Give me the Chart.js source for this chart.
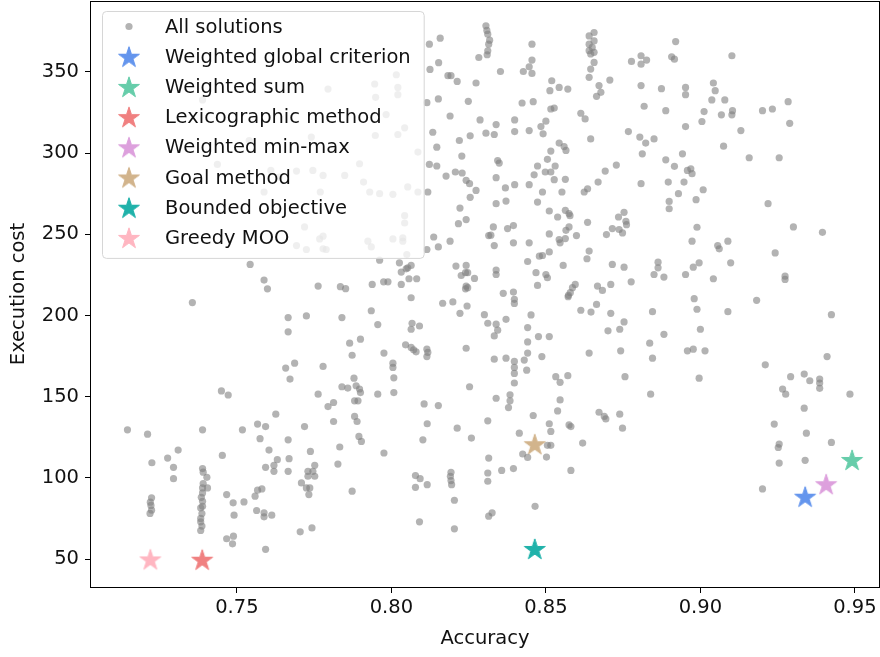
<!DOCTYPE html>
<html>
<head>
<meta charset="utf-8">
<title>Execution cost vs accuracy</title>
<script src="https://cdn.jsdelivr.net/npm/chart.js@4.4.1/dist/chart.umd.min.js"></script>
<style>
  html, body { margin: 0; padding: 0; background: #fff; }
  #wrap { width: 880px; height: 657px; position: relative; }
</style>
</head>
<body>
<div id="wrap"><canvas id="paretoChart" width="880" height="657"></canvas></div>
<script>
// every candidate solution: [accuracy, execution cost]
const solutionPoints = [
  [0.7389,332.7],[0.7540,307.7],[0.7437,293.0],[0.7610,289.3],[0.7637,285.2],[0.7588,276.0],
  [0.8016,348.2],[0.7795,339.4],[0.7946,342.5],[0.8021,340.4],[0.7949,334.3],[0.8021,335.9],[0.7983,323.7],[0.8043,315.5],
  [0.8021,311.4],[0.7948,310.8],[0.7741,309.8],[0.8086,300.6],[0.7897,293.4],[0.7746,289.3],[0.7693,288.9],[0.7779,286.2],
  [0.7849,286.2],[0.7910,282.1],[0.7930,276.0],[0.7962,275.0],[0.8005,274.6],[0.8053,279.1],[0.8086,276.0],[0.7770,276.0],
  [0.8123,367.0],[0.8158,370.7],[0.8306,378.3],[0.8312,373.2],[0.8315,367.0],[0.8312,362.9],[0.8283,358.8],[0.8153,355.6],
  [0.8125,351.5],[0.8183,347.6],[0.8193,347.6],[0.8213,344.1],[0.8274,343.1],[0.8152,333.3],[0.8115,331.0],[0.8249,331.8],
  [0.8190,322.8],[0.8287,320.4],[0.8134,312.8],[0.8220,307.7],[0.8255,310.6],[0.8306,312.2],[0.8147,303.6],[0.8228,298.1],
  [0.8123,293.0],[0.8147,292.0],[0.8177,285.8],[0.8207,288.3],[0.8229,287.7],[0.8242,283.2],[0.8253,281.1],[0.8274,277.0],
  [0.8118,276.0],[0.8309,375.5],[0.8318,369.5],[0.8310,360.5],
  [0.8455,367.0],[0.8455,357.2],[0.8446,353.1],[0.8353,350.2],[0.8427,350.2],[0.8455,349.0],[0.8640,372.1],[0.8656,374.2],
  [0.8640,367.0],[0.8656,369.0],[0.8650,365.0],[0.8640,363.0],[0.8656,362.0],[0.8645,361.0],[0.8656,355.8],[0.8645,351.7],
  [0.8640,346.6],[0.8672,341.5],[0.8707,344.9],[0.8678,337.4],[0.8664,334.9],[0.8519,344.5],[0.8513,338.4],[0.8543,340.4],
  [0.8571,339.4],[0.8423,330.8],[0.8459,331.6],[0.8516,327.1],[0.8527,327.7],[0.8613,324.5],[0.8627,321.0],[0.8339,317.5],
  [0.8333,311.4],[0.8399,320.4],[0.8399,313.2],[0.8446,313.8],[0.8484,316.3],[0.8500,319.6],[0.8491,311.8],[0.8645,308.7],
  [0.8543,306.1],[0.8559,304.0],[0.8565,301.6],[0.8516,301.2],[0.8505,296.1],[0.8344,295.4],[0.8349,293.8],[0.8530,292.0],
  [0.8473,292.0],[0.8498,288.3],[0.8516,288.3],[0.8462,286.6],[0.8339,284.8],[0.8527,283.6],[0.8563,283.8],[0.8369,278.5],
  [0.8399,280.5],[0.8446,280.5],[0.8489,276.0],[0.8552,276.0],[0.8635,278.0],[0.8624,276.0],[0.8692,288.9],[0.8728,292.6],
  [0.8669,282.1],[0.8767,313.2],[0.8804,309.8],[0.8823,306.1],[0.8850,308.7],[0.8812,299.5],[0.8808,359.9],[0.8826,357.2],
  [0.8808,354.7],[0.8777,356.4],[0.8808,341.5],[0.8818,328.8],[0.8874,339.6],[0.8888,326.1],[0.8907,359.2],[0.8916,357.8],
  [0.8920,368.6],[0.8952,340.4],[0.8952,335.9],[0.8952,316.3],[0.8942,299.5],[0.8888,295.8],[0.8916,291.8],[0.8958,289.3],
  [0.8896,282.1],[0.8947,282.1],[0.8808,281.1],[0.8929,275.0],
  [0.9102,359.9],[0.9042,343.1],[0.9048,338.4],[0.9037,332.7],[0.9079,332.7],[0.9012,325.5],[0.9068,323.5],[0.9104,326.1],
  [0.9102,323.5],[0.9005,319.4],[0.9131,313.8],[0.9075,304.2],[0.9158,297.1],[0.9255,297.1],[0.9201,326.1],[0.9233,327.1],
  [0.9284,331.6],[0.9289,318.3],[0.8969,290.3],[0.8973,287.3],[0.9009,277.4],
  [0.7543,231.4],[0.7588,221.8],[0.7599,216.4],[0.7356,207.9],[0.7666,198.7],[0.7666,189.9],[0.7658,167.6],[0.7672,160.8],
  [0.7719,254.5],[0.7779,248.8],[0.7768,247.1],[0.7693,243.0],[0.7725,240.6],[0.7779,241.0],[0.7789,240.6],[0.7924,245.7],
  [0.7935,242.2],[0.8005,247.1],[0.8037,247.7],[0.8037,245.7],[0.8043,256.9],[0.8043,261.4],[0.8050,237.5],
  [0.7962,234.0],[0.8026,232.4],[0.8048,228.7],[0.8053,229.3],[0.8064,230.8],[0.8032,226.7],[0.8057,222.6],[0.8082,222.6],
  [0.8032,219.1],[0.7975,220.7],[0.7989,220.7],[0.7938,219.1],[0.7835,217.7],[0.7852,216.5],[0.7763,218.1],[0.8064,210.9],
  [0.8115,240.6],[0.8137,248.3],[0.8152,242.2],[0.8190,245.7],[0.8222,266.1],[0.8217,256.5],[0.8242,259.0],[0.8255,272.7],
  [0.8315,249.2],[0.8209,230.4],[0.8242,230.8],[0.8240,226.3],[0.8226,224.6],[0.8247,226.3],[0.8269,222.8],[0.8242,218.1],
  [0.8247,217.1],[0.8240,216.4],[0.8166,207.5],[0.8199,208.3],[0.8245,205.8],[0.8222,201.3],[0.8301,200.5],[0.8312,195.2],
  [0.7935,202.9],[0.7956,194.4],[0.7840,198.7],[0.7725,199.7],[0.8067,195.2],[0.8064,191.5],[0.8091,193.5],[0.8046,181.9],
  [0.8064,180.3],[0.8072,178.8],[0.8080,177.6],[0.8115,179.2],[0.8118,177.2],[0.8115,174.7],[0.8242,179.8],[0.7900,185.4],
  [0.7865,182.9],[0.7873,175.5],[0.7976,176.8],[0.8005,170.6],[0.8005,168.0],[0.7779,168.6],[0.7687,170.6],[0.7879,161.4],
  [0.8008,161.6],[0.7840,156.1],[0.7859,155.3],[0.7886,156.7],[0.7897,154.7],[0.8253,156.1],
  [0.8339,268.8],[0.8371,270.4],[0.8473,269.8],[0.8511,264.3],[0.8538,260.6],[0.8563,264.7],[0.8575,262.7],[0.8578,261.4],
  [0.8635,257.3],[0.8899,270.2],[0.8899,265.7],[0.8753,263.5],[0.8735,260.6],[0.8759,258.0],[0.8761,255.9],[0.8715,253.5],
  [0.8737,252.9],[0.8748,250.8],[0.8696,249.8],[0.8599,249.2],[0.8575,254.5],[0.8565,252.4],[0.8543,246.7],[0.8546,244.7],
  [0.8563,247.3],[0.8511,250.2],[0.8330,254.5],[0.8376,253.5],[0.8395,255.3],[0.8322,249.4],[0.8333,243.0],[0.8395,244.7],
  [0.8446,244.7],[0.8511,239.1],[0.8479,236.5],[0.8489,236.9],[0.8441,233.2],[0.8640,239.6],[0.8633,234.9],[0.8556,230.8],
  [0.8715,231.4],[0.8753,229.7],[0.8339,227.9],[0.8339,225.2],[0.8468,226.3],[0.8500,225.2],[0.8505,223.2],[0.8473,218.5],
  [0.8595,219.1],[0.8586,217.1],[0.8579,214.0],[0.8573,212.4],[0.8572,211.5],[0.8667,218.1],[0.8683,215.4],[0.8710,219.1],
  [0.8776,220.7],[0.8863,232.8],[0.8863,229.3],[0.8850,225.2],[0.8882,223.6],[0.8952,225.2],[0.8362,213.6],[0.8395,214.4],
  [0.8398,209.9],[0.8398,207.4],[0.8664,206.8],[0.8613,203.2],[0.8646,202.1],[0.8710,201.3],[0.8845,202.3],[0.8452,200.3],
  [0.8371,197.6],[0.8339,194.6],[0.8344,190.9],[0.8333,187.4],[0.8441,192.5],[0.8753,196.0],[0.8739,191.5],[0.8701,190.5],
  [0.8882,188.4],[0.8441,183.7],[0.8441,176.8],[0.8476,187.0],[0.8511,187.0],[0.8836,182.9],[0.8958,178.2],[0.8640,176.8],
  [0.8742,178.2],[0.8845,173.7],[0.8487,174.7],[0.8333,173.1],[0.8371,173.7],[0.8398,171.7],[0.8398,168.0],[0.8398,164.3],
  [0.8398,158.4],[0.8430,172.5],[0.8438,166.3],[0.8532,162.3],[0.8546,158.8],[0.8571,162.9],[0.8756,162.3],
  [0.8986,271.3],[0.9219,268.8],[0.8989,254.3],[0.8973,245.7],[0.9056,243.0],[0.9061,241.0],[0.9089,245.7],[0.8996,232.4],
  [0.8977,229.7],[0.9098,232.4],[0.9042,222.6],[0.9301,254.5],[0.9395,251.2],[0.9242,238.5],[0.9274,224.2],[0.9274,222.2],
  [0.9182,209.3],[0.8980,210.3],[0.8989,203.8],[0.9089,202.3],[0.9424,200.5],[0.9000,191.5],[0.8977,179.2],[0.9015,178.2],
  [0.9410,174.7],[0.9210,169.6],[0.8996,161.4],[0.9292,162.3],[0.9336,163.9],[0.9354,159.8],[0.9386,160.8],[0.9386,158.4],
  [0.9386,155.1],[0.9266,154.7],
  [0.7450,153.5],[0.7472,151.0],[0.7146,129.6],[0.7211,126.9],[0.7389,129.6],[0.7518,129.6],[0.7626,139.2],[0.7567,133.1],
  [0.7593,131.6],[0.7575,124.1],[0.7666,123.4],[0.7604,117.1],[0.7631,111.2],[0.7669,111.8],[0.7593,106.5],[0.7620,107.7],
  [0.7620,104.0],[0.7666,104.0],[0.7310,117.1],[0.7453,113.8],[0.7276,112.2],[0.7225,109.3],[0.7295,106.5],[0.7295,99.5],
  [0.7389,105.7],[0.7403,100.3],[0.7389,93.8],[0.7405,93.8],[0.7389,90.7],[0.7389,85.6],[0.7389,82.5],[0.7383,81.5],
  [0.7383,75.0],[0.7383,72.9],[0.7387,70.3],[0.7383,67.6],[0.7224,87.7],[0.7220,85.0],[0.7224,80.1],[0.7219,78.1],
  [0.7467,89.7],[0.7488,84.6],[0.7523,85.2],[0.7491,77.0],[0.7467,62.5],[0.7489,64.1],[0.7486,59.4],[0.7567,92.4],
  [0.7581,93.2],[0.7559,88.7],[0.7564,79.9],[0.7588,78.5],[0.7588,76.0],[0.7613,77.0],[0.7593,56.0],
  [0.7391,96.5],[0.7385,88.0],[0.7387,78.0],[0.7391,103.5],[0.7222,83.0],
  [0.7763,151.5],[0.7900,152.5],[0.7956,151.5],[0.8008,152.5],[0.7795,143.9],[0.7813,146.4],[0.7881,147.4],[0.7892,147.4],
  [0.7881,137.8],[0.7889,134.7],[0.7813,134.7],[0.7719,131.6],[0.7895,125.5],[0.7903,122.4],[0.7738,116.3],[0.7833,119.0],
  [0.7976,115.3],[0.7827,108.5],[0.7752,107.7],[0.7730,104.0],[0.7746,104.0],[0.7752,101.0],[0.7730,101.0],[0.7709,96.9],
  [0.7725,93.8],[0.7736,93.8],[0.7733,89.7],[0.7873,91.8],[0.7705,66.8],[0.7743,69.2],[0.8106,145.5],[0.8152,144.5],
  [0.8116,133.3],[0.8102,123.4],[0.8213,130.6],[0.8259,124.5],[0.8312,135.1],[0.8078,101.4],[0.8093,99.5],[0.8116,95.8],
  [0.8078,94.2],[0.8193,103.4],[0.8191,101.0],[0.8193,98.3],[0.8195,95.8],[0.8204,86.2],[0.8091,72.9],[0.8204,68.6],
  [0.8315,112.2],[0.8312,103.0],[0.8312,97.9],[0.8315,76.4],
  [0.8339,149.0],[0.8384,151.1],[0.8384,147.4],[0.8379,143.3],[0.8459,138.4],[0.8546,148.0],[0.8538,141.2],[0.8511,133.3],
  [0.8516,128.6],[0.8575,132.6],[0.8581,131.6],[0.8672,140.4],[0.8689,137.8],[0.8694,136.3],[0.8739,139.2],[0.8748,130.6],
  [0.8839,151.5],[0.8414,127.5],[0.8619,121.4],[0.8505,120.0],[0.8516,120.0],[0.8425,114.7],[0.8441,112.6],[0.8502,112.8],
  [0.8581,104.6],[0.8357,104.6],[0.8395,105.7],[0.8465,82.5],[0.8326,78.5],
  [0.9276,151.5],[0.9484,151.5],[0.9336,142.9],[0.9239,133.1],[0.9343,127.5],[0.9255,120.8],[0.9252,118.7],[0.9424,121.8],
  [0.9255,109.1],[0.9339,110.8],[0.9201,93.2]
];

// the point each optimisation method picked
const methodNames = ['Weighted global criterion', 'Weighted sum', 'Lexicographic method',
                     'Weighted min-max', 'Goal method', 'Bounded objective', 'Greedy MOO'];
const methodAccuracy = [0.9339, 0.9491, 0.7388, 0.9407, 0.8464, 0.8464, 0.7220];
const methodCost     = [88.4, 111.0, 49.6, 96.1, 120.7, 56.2, 49.8];
const methodColors   = ['#6495ED', '#66CDAA', '#F08080', '#DDA0DD', '#D2B48C', '#20B2AA', '#FFB6C1'];

const xTicks = [0.75, 0.80, 0.85, 0.90, 0.95];
const yTicks = [50, 100, 150, 200, 250, 300, 350];

const FONT = "'DejaVu Sans', 'Liberation Sans', sans-serif";
const FONT_SIZE = 19.5;
const TEXT = '#111';
const DOT_COLOR = 'rgba(128, 128, 128, 0.6)';
const DOT_RADIUS = 3.6;
// plot box inside the canvas
const AREA = { left: 91, top: 1, right: 879, bottom: 587 };

// filled five-point star, used as an image point style
function makeStar(color, r) {
    const size = Math.ceil(r * 2 + 4);
    const c = document.createElement('canvas');
    c.width = size;
    c.height = size;
    const g = c.getContext('2d');
    const cx = size / 2, cy = size / 2 + r * 0.08;
    g.beginPath();
    for (let i = 0; i < 10; i++) {
        const rad = i % 2 === 0 ? r : r * 0.382;
        const a = -Math.PI / 2 + i * Math.PI / 5;
        const px = cx + rad * Math.cos(a), py = cy + rad * Math.sin(a);
        if (i === 0) g.moveTo(px, py); else g.lineTo(px, py);
    }
    g.closePath();
    g.fillStyle = color;
    g.fill();
    g.lineWidth = 1;
    g.strokeStyle = color;
    g.stroke();
    return c;
}

const datasets = [{
    label: 'All solutions',
    data: solutionPoints.map(p => ({ x: p[0], y: p[1] })),
    backgroundColor: DOT_COLOR,
    borderWidth: 0,
    pointRadius: DOT_RADIUS,
    pointHoverRadius: DOT_RADIUS
}];
methodNames.forEach((name, i) => {
    datasets.push({
        label: name,
        data: [{ x: methodAccuracy[i], y: methodCost[i] }],
        backgroundColor: methodColors[i],
        pointStyle: makeStar(methodColors[i], 11),
        pointRadius: 10,
        pointHoverRadius: 10
    });
});

// pin the plot box so tick-label padding does not shrink it
const areaPlugin = {
    id: 'fixedArea',
    afterLayout(chart) {
        const a = chart.chartArea;
        Object.assign(a, AREA);
        a.width = a.right - a.left;
        a.height = a.bottom - a.top;
        const x = chart.scales.x, y = chart.scales.y;
        x.left = AREA.left; x.right = AREA.right; x.width = x.right - x.left;
        x.configure();
        y.top = AREA.top; y.bottom = AREA.bottom; y.height = y.bottom - y.top;
        y.configure();
    }
};

// axes frame drawn on all four sides
const framePlugin = {
    id: 'frame',
    afterDatasetsDraw(chart) {
        const { ctx, chartArea: a } = chart;
        ctx.save();
        ctx.strokeStyle = '#000';
        ctx.lineWidth = 1;
        ctx.strokeRect(a.left - 0.5, a.top + 0.5, a.right - a.left + 1, a.bottom - a.top);
        ctx.restore();
    }
};

// legend box in the upper left of the plot, on top of the points
const legendPlugin = {
    id: 'boxLegend',
    afterDatasetsDraw(chart) {
        const { ctx, chartArea: a } = chart;
        const sets = chart.data.datasets;
        const rowH = 30.2;
        const x0 = a.left + 11, y0 = a.top + 10;
        ctx.save();
        ctx.font = FONT_SIZE + 'px ' + FONT;
        let maxW = 0;
        sets.forEach(d => { maxW = Math.max(maxW, ctx.measureText(d.label).width); });
        const w = 63 + maxW + 13;
        const h = 15.5 + rowH * (sets.length - 1) + 20;
        ctx.beginPath();
        ctx.roundRect(x0 + 0.5, y0 + 0.5, w, h, 4);
        ctx.fillStyle = 'rgba(255, 255, 255, 0.8)';
        ctx.fill();
        ctx.strokeStyle = '#d6d6d6';
        ctx.lineWidth = 1;
        ctx.stroke();
        sets.forEach((d, i) => {
            const cy = y0 + 15.5 + i * rowH;
            const mx = x0 + 27;
            if (d.pointStyle && typeof d.pointStyle === 'object') {
                const img = d.pointStyle;
                ctx.drawImage(img, mx - img.width / 2, cy - img.height / 2);
            } else {
                ctx.beginPath();
                ctx.arc(mx, cy, DOT_RADIUS, 0, Math.PI * 2);
                ctx.fillStyle = d.backgroundColor;
                ctx.fill();
            }
            ctx.fillStyle = TEXT;
            ctx.textBaseline = 'middle';
            ctx.textAlign = 'left';
            ctx.fillText(d.label, x0 + 63, cy + 1);
        });
        ctx.restore();
    }
};

new Chart(document.getElementById('paretoChart'), {
    type: 'scatter',
    data: { datasets: datasets },
    options: {
        responsive: false,
        animation: false,
        events: [],
        layout: { padding: { top: 1, right: 1, left: 0, bottom: 0 } },
        plugins: {
            legend: { display: false },
            tooltip: { enabled: false }
        },
        scales: {
            x: {
                type: 'linear',
                min: 0.7028,
                max: 0.9578,
                afterBuildTicks: s => { s.ticks = xTicks.map(v => ({ value: v })); },
                afterFit: s => { s.height = 70; },
                border: { display: false },
                grid: { drawOnChartArea: false, drawTicks: true, tickLength: 6, color: '#000' },
                ticks: {
                    padding: 3,
                    color: TEXT,
                    font: { family: FONT, size: FONT_SIZE },
                    maxRotation: 0,
                    callback: v => v.toFixed(2)
                },
                title: {
                    display: true,
                    text: 'Accuracy',
                    color: TEXT,
                    font: { family: FONT, size: FONT_SIZE },
                    padding: { top: 0, bottom: 6 }
                }
            },
            y: {
                type: 'linear',
                min: 32.8,
                max: 393.6,
                afterBuildTicks: s => { s.ticks = yTicks.map(v => ({ value: v })); },
                afterFit: s => { s.width = 91; },
                border: { display: false },
                grid: { drawOnChartArea: false, drawTicks: true, tickLength: 6, color: '#000' },
                ticks: {
                    padding: 6,
                    color: TEXT,
                    font: { family: FONT, size: FONT_SIZE },
                    callback: v => String(v)
                },
                title: {
                    display: true,
                    text: 'Execution cost',
                    color: TEXT,
                    font: { family: FONT, size: FONT_SIZE },
                    padding: { top: 7, bottom: 0 }
                }
            }
        }
    },
    plugins: [areaPlugin, framePlugin, legendPlugin]
});
</script>
</body>
</html>
